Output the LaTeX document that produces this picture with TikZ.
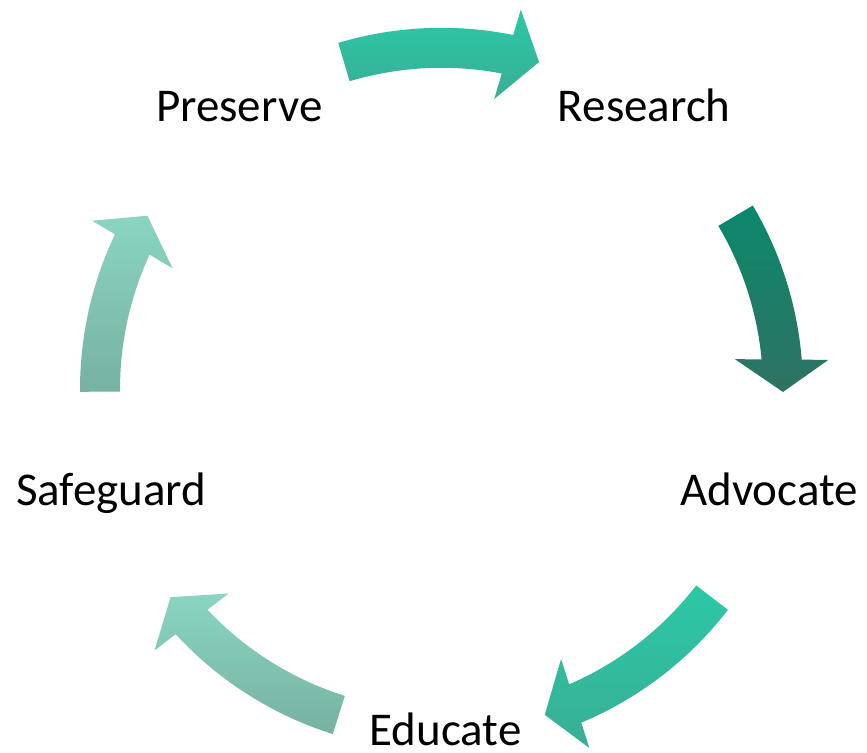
\documentclass[tikz,border=0pt]{standalone}
\usepackage{fontspec}
\setmainfont{Carlito}
\definecolor{tealA}{HTML}{2CC8A6}
\definecolor{tealAb}{HTML}{38AE95}
\definecolor{darkA}{HTML}{0B886C}
\definecolor{darkAb}{HTML}{2F7263}
\definecolor{lightA}{HTML}{8AD5C2}
\definecolor{lightAb}{HTML}{77B1A1}
\newcommand{\cycarrow}[4]{%
  % #1 start angle, #2 tip angle, #3 top colour, #4 bottom colour
  \shade[top color=#3, bottom color=#4, shift={(441.5,363.7)}]
    (#1:361.5) arc[start angle=#1, end angle={#2+5.15}, radius=361.5]
    -- ({#2+4.8}:388) -- (#2:341.5) -- ({#2+6.31}:295)
    -- ({#2+5.79}:321.5) arc[start angle={#2+5.79}, end angle=#1, radius=321.5]
    -- cycle;}
\tikzset{lbl/.style={inner sep=0pt, anchor=base, font=\fontsize{23.5}{28}\selectfont}}
\begin{document}
\begin{tikzpicture}[x=0.5pt,y=0.5pt]
\useasboundingbox (0,0) rectangle (867,753);
\cycarrow{106.6}{73.4}{tealA}{tealAb}
\cycarrow{30.55}{-0.45}{darkA}{darkAb}
\cycarrow{-37.6}{-72.4}{tealA}{tealAb}
\cycarrow{-107.5}{-142.5}{lightA}{lightAb}
\cycarrow{180.4}{149.45}{lightA}{lightAb}
\node[lbl] (preserve) at (239.2,631.3) {Preserve};
\node[lbl] (research) at (644.2,631.3) {Research};
\node[lbl] (advocate) at (769,247.3) {Advocate};
\node[lbl] (safeguard) at (111.2,247.3) {Safeguard};
\node[lbl] (educate) at (445.5,7) {Educate};
\end{tikzpicture}
\end{document}
